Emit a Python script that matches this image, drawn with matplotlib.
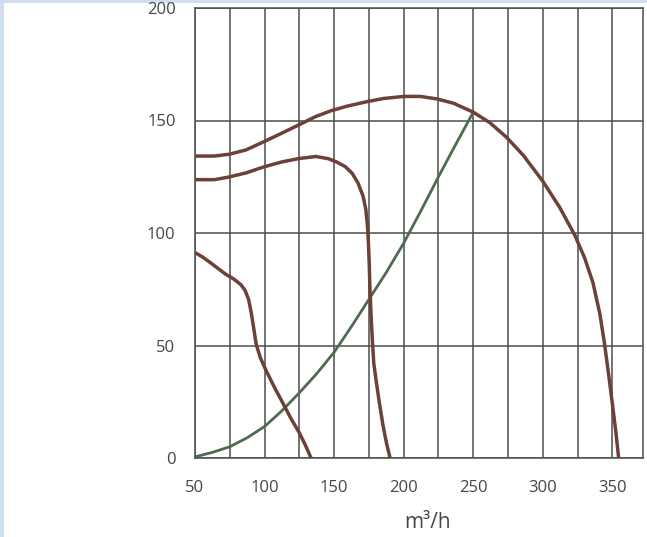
import matplotlib
matplotlib.use("Agg")
import matplotlib.pyplot as plt
from matplotlib.patches import Rectangle

plt.rcParams['font.family'] = ['Open Sans', 'DejaVu Sans']

# ---- data ----
x_ticks = [50, 100, 150, 200, 250, 300, 350]
x_minor = [75, 125, 175, 225, 275, 325]
y_ticks = [0, 50, 100, 150, 200]
x_label = "m³/h"

# top fan curve
c1_x = [50, 64, 74.5, 86.6, 99.6, 112.5, 124.8, 136.9, 147.6, 159.5, 173.8, 185.7, 200, 211.9,
        223.8, 235.7, 250, 262, 274, 286, 300, 312, 323, 330, 336, 341, 344.3, 347,
        350, 352.5, 354.5]
c1_y = [134.2, 134.2, 135, 136.9, 140.6, 144.4, 148.1, 151.8, 154.3, 156.4, 158.4, 159.8, 160.7,
        160.7, 159.6, 157.7, 153.7, 149, 142.5, 134.5, 123, 111.5, 99, 89, 78, 64, 51, 38.5,
        24, 11.5, 0]

# middle fan curve
c2_x = [50, 64, 74.5, 86.6, 99.6, 112.5, 124.8, 136.9, 146, 152, 158, 163, 167.1, 170.8, 172.8,
        174, 174.7, 175.3, 175.7, 176.5, 177.5, 178.5, 180.5, 182.5, 185, 187.5, 190.2]
c2_y = [123.7, 123.7, 124.9, 126.7, 129.4, 131.6, 133.1, 134, 133, 131.5, 129.5, 126.5, 122.3,
        116.4, 110.4, 103, 95, 85, 76, 64, 52, 42, 33, 24.6, 15, 7, 0]

# lower fan curve
c3_x = [50, 55, 60, 66, 72, 78, 83, 86, 88.5, 90.3, 92, 94, 97, 101, 107, 113, 119, 125, 129.5, 133.4]
c3_y = [91.3, 89.5, 87.3, 84.5, 81.7, 79.5, 77, 74.5, 70.5, 65, 58.5, 50.5, 44.5, 39, 31.5, 24.6,
        17.5, 11.2, 5.5, 0]

# system curve (green)
c4_x = [50, 62.5, 75, 87.5, 100, 112.5, 125, 137.5, 150, 162.5, 175, 187.5, 200, 212.5, 225, 237.5, 250]
c4_y = [0.5, 2.5, 5, 9, 14, 21, 29, 37.5, 47, 58.5, 70.5, 82.5, 95.5, 110, 125, 139.5, 153.7]

brown = '#6d4038'
green = '#4e6b52'
gridc = '#4d4d4d'
textc = '#454545'

fig = plt.figure(figsize=(6.47, 5.37), dpi=100, facecolor='#d3ddf0')
fig.patches.append(Rectangle((4 / 647, 0), 1 - 4 / 647, 1 - 3 / 537, transform=fig.transFigure,
                             facecolor='white', edgecolor='none', zorder=-10))

ax = fig.add_axes([195 / 647, 79 / 537, 448 / 647, 450 / 537])
ax.set_facecolor('white')
ax.set_xlim(50, 372)
ax.set_ylim(0, 200)

ax.set_xticks(x_ticks)
ax.set_xticks(x_minor, minor=True)
ax.set_yticks(y_ticks)
ax.tick_params(axis='both', which='both', length=0)
ax.tick_params(axis='x', pad=16, labelsize=12, labelcolor=textc)
ax.tick_params(axis='y', pad=14, labelsize=12, labelcolor=textc)
ax.grid(True, axis='x', which='both', color=gridc, linewidth=1.1)
ax.grid(True, axis='y', which='major', color=gridc, linewidth=1.1)
ax.set_axisbelow(True)
for s in ax.spines.values():
    s.set_color(gridc)
    s.set_linewidth(1.1)

kw = dict(solid_joinstyle='round', solid_capstyle='butt', clip_on=False)
ax.plot(c4_x, c4_y, color=green, linewidth=2.0, **kw)
ax.plot(c1_x, c1_y, color=brown, linewidth=2.5, **kw)
ax.plot(c2_x, c2_y, color=brown, linewidth=2.5, **kw)
ax.plot(c3_x, c3_y, color=brown, linewidth=2.5, **kw)

fig.text(428 / 647, 1 - 523 / 537, x_label, ha='center', va='center', fontsize=15, color=textc)

fig.savefig('out.png', dpi=100, facecolor=fig.get_facecolor())
